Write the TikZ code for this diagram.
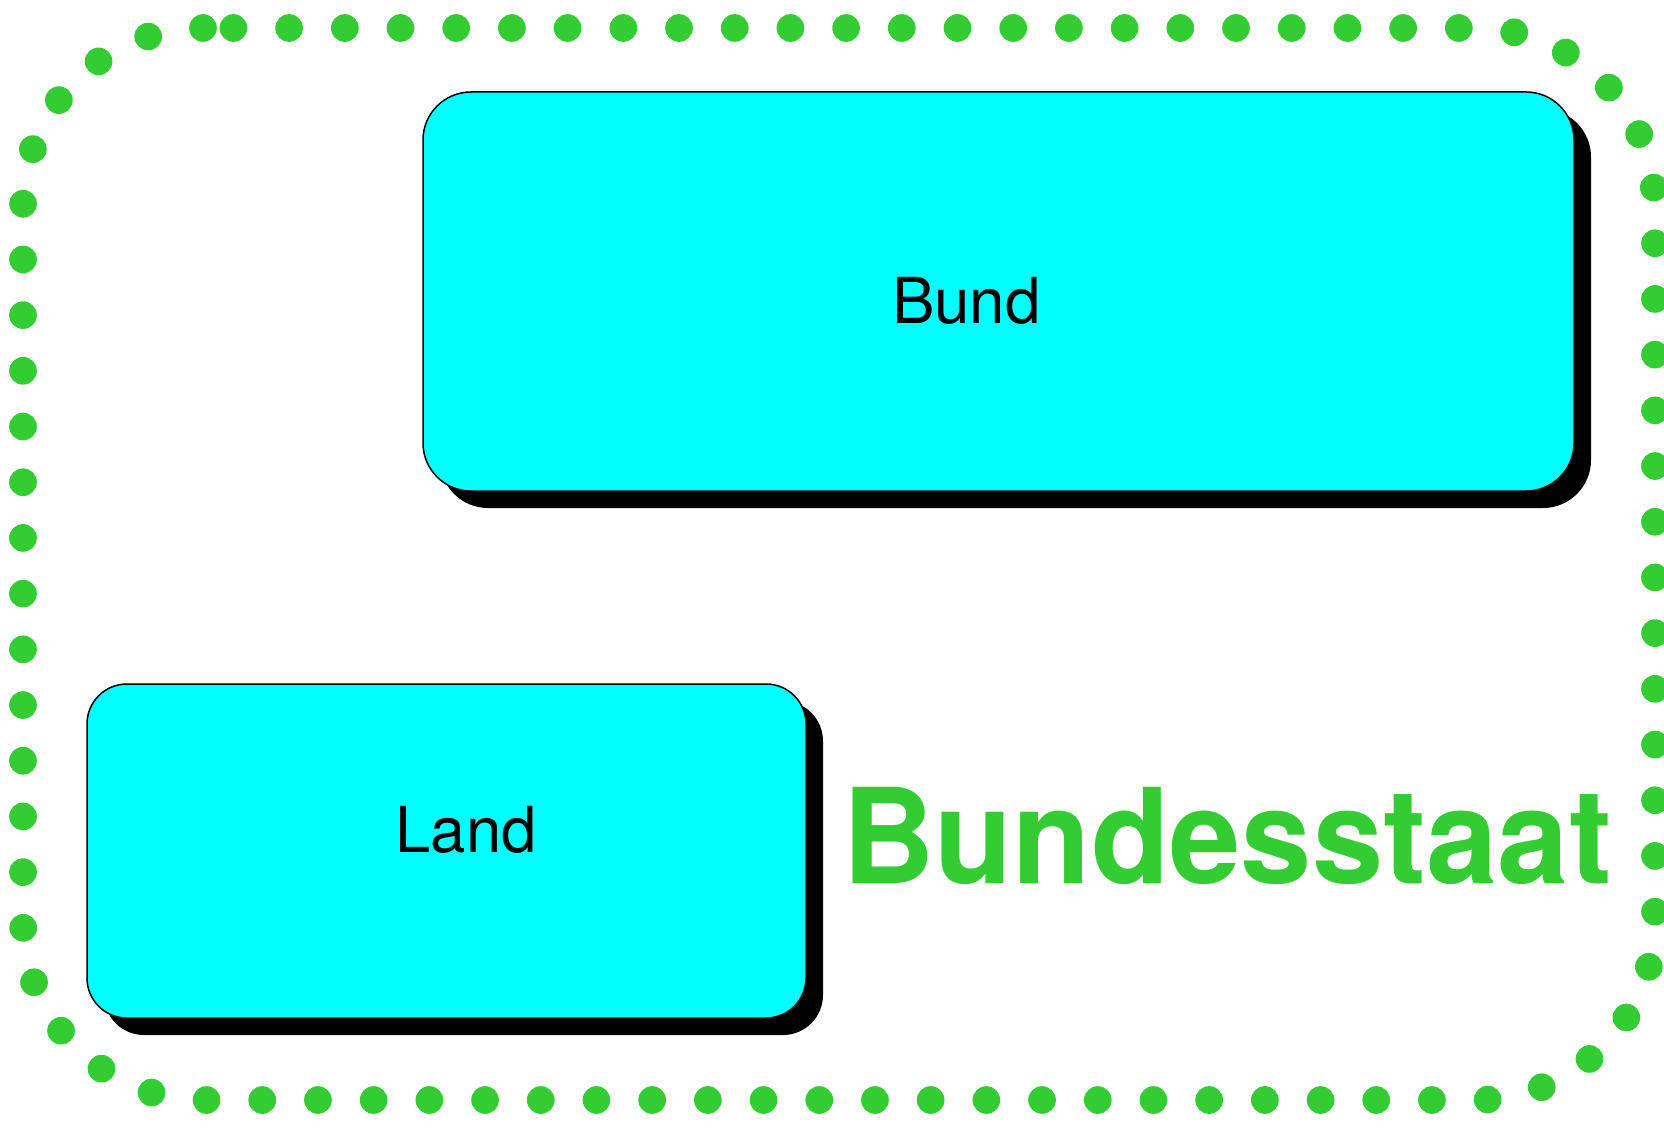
\documentclass[tikz,border=0pt]{standalone}
\usepackage{fontspec}
\usepackage{graphicx}
\setmainfont{TeX Gyre Heros}
\usetikzlibrary{shadows}
\definecolor{dotgreen}{RGB}{51,204,51}
\definecolor{boxcyan}{RGB}{0,255,255}
\tikzset{
  px/.style={x=0.5pt,y=0.5pt},
  boxshape/.style={draw=black, line width=0.75pt, fill=boxcyan, rounded corners=24pt,
    drop shadow={shadow xshift=8.5pt, shadow yshift=-8.5pt, fill=black, opacity=1},
    inner sep=0pt, outer sep=0pt},
  boxlabel/.style={inner sep=0pt, outer sep=0pt, anchor=base west, text=black},
  titlelabel/.style={inner sep=0pt, outer sep=0pt, anchor=base west, text=dotgreen},
  dotline/.style={draw=dotgreen, line width=13.85pt, line cap=round, dash pattern=on 0pt off 27.85pt}
}
\begin{document}
\begin{tikzpicture}[px]
\useasboundingbox (0,0) rectangle (1664,-1128);
% dotted border
\draw[dotline] (203,-28) arc[start angle=90, end angle=180, radius=90pt]
  -- (23,-920) arc[start angle=180, end angle=270, radius=90pt]
  -- (1475,-1100) arc[start angle=270, end angle=360, radius=90pt]
  -- (1655,-208) arc[start angle=0, end angle=90, radius=90pt]
  -- cycle;
% boxes
\node[boxshape, minimum width=575.5pt, minimum height=199.5pt] (bund) at (998.5,-291.5) {};
\node[boxshape, rounded corners=20pt, minimum width=359.5pt, minimum height=167pt] (land) at (446.5,-851) {};
% labels
\node[boxlabel] (bundtext) at (892,-323.7) {\fontsize{31.7pt}{36pt}\selectfont\scalebox{1.005}[1]{Bund}};
\node[boxlabel] (landtext) at (395.5,-852) {\fontsize{31.7pt}{36pt}\selectfont\scalebox{1.0}[1]{Land}};
\node[titlelabel] (title) at (842,-883) {\fontsize{66pt}{72pt}\selectfont\bfseries\scalebox{0.971}[1]{Bundesstaat}};
\end{tikzpicture}
\end{document}
